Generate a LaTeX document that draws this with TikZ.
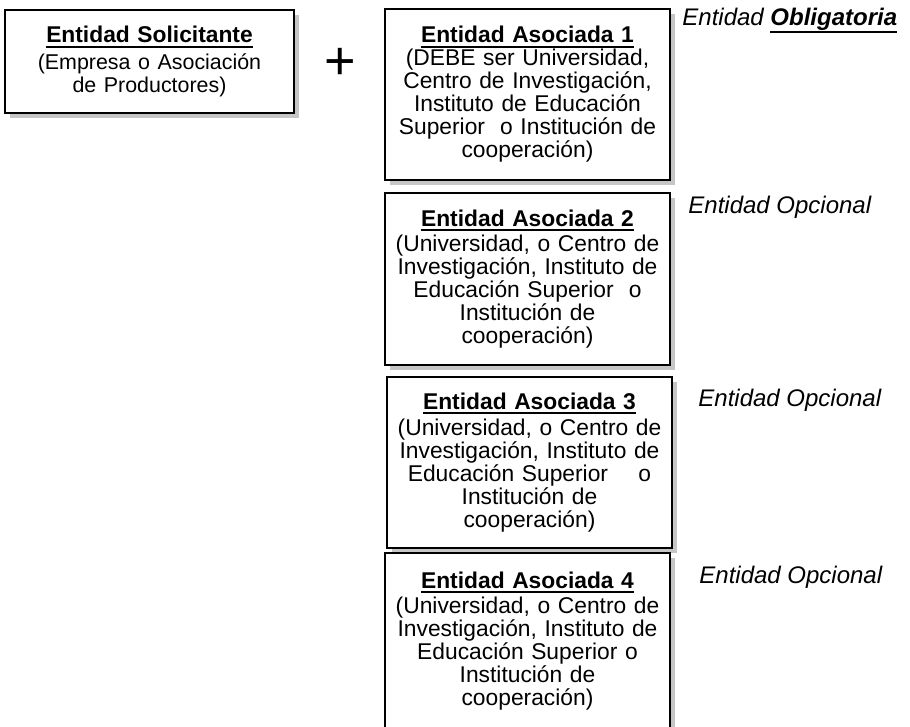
\documentclass[tikz,border=0pt]{standalone}
\usepackage{fontspec}
\setmainfont{Liberation Sans}
\usetikzlibrary{shadows}
\newcommand{\enttitle}[2][2.5pt]{\setbox0\hbox{\textbf{#2}}\rlap{\rule[-#1]{\wd0}{1pt}}\box0}

\begin{document}
\begin{tikzpicture}[x=0.5pt,y=-0.5pt,
	entbox/.style={draw,line width=1pt,fill=white,inner sep=0pt,align=center,
		text width=140pt,minimum width=142.5pt,
		drop shadow={shadow xshift=2.5pt,shadow yshift=-2.5pt,fill=gray!45,opacity=1},
		font=\fontsize{11.4pt}{11.5pt}\selectfont},
	tag/.style={anchor=base west,inner sep=0pt,font=\fontsize{12pt}{12pt}\selectfont\itshape}]
	\useasboundingbox (0,0) rectangle (910,727);
	% solicitante
	\node[entbox,minimum width=144.5pt,minimum height=51.5pt] (sol) at (149.5,61.5)
		{\enttitle{Entidad Solicitante}\\[2pt]{\fontsize{10.7pt}{11.5pt}\selectfont(Empresa o Asociación\\de Productores)}};
	\node[inner sep=0pt] (plus) at (340,64) {\fontsize{27pt}{27pt}\selectfont +};
	% asociadas
	\node[entbox,minimum height=85.5pt] (aso1) at (527.5,94.5)
		{\enttitle{Entidad Asociada 1}\\(DEBE ser Universidad,\\Centro de Investigación,\\Instituto de Educación\\Superior\ \ o Institución de\\cooperación)};
	\node[entbox,minimum height=86pt] (aso2) at (527.5,279)
		{\enttitle{Entidad Asociada 2}\\[1pt](Universidad, o Centro de\\Investigación, Instituto de\\Educación Superior\ \ o\\Institución de\\cooperación)};
	\node[entbox,minimum height=85.5pt] (aso3) at (529.5,462.5)
		{\enttitle{Entidad Asociada 3}\\[1.5pt](Universidad, o Centro de\\Investigación, Instituto de\\Educación Superior\quad\ o\\Institución de\\cooperación)};
	\node[entbox,minimum height=88pt] (aso4) at (527.5,641)
		{\enttitle{Entidad Asociada 4}\\[1pt](Universidad, o Centro de\\Investigación, Instituto de\\Educación Superior o\\Institución de\\cooperación)};
	% etiquetas
	\node[tag] (tag1) at (682,26) {Entidad \enttitle[3.3pt]{Obligatoria}};
	\node[tag] (tag2) at (688,214) {Entidad Opcional};
	\node[tag] (tag3) at (698,406) {Entidad Opcional};
	\node[tag] (tag4) at (699,583) {Entidad Opcional};
\end{tikzpicture}
\end{document}
